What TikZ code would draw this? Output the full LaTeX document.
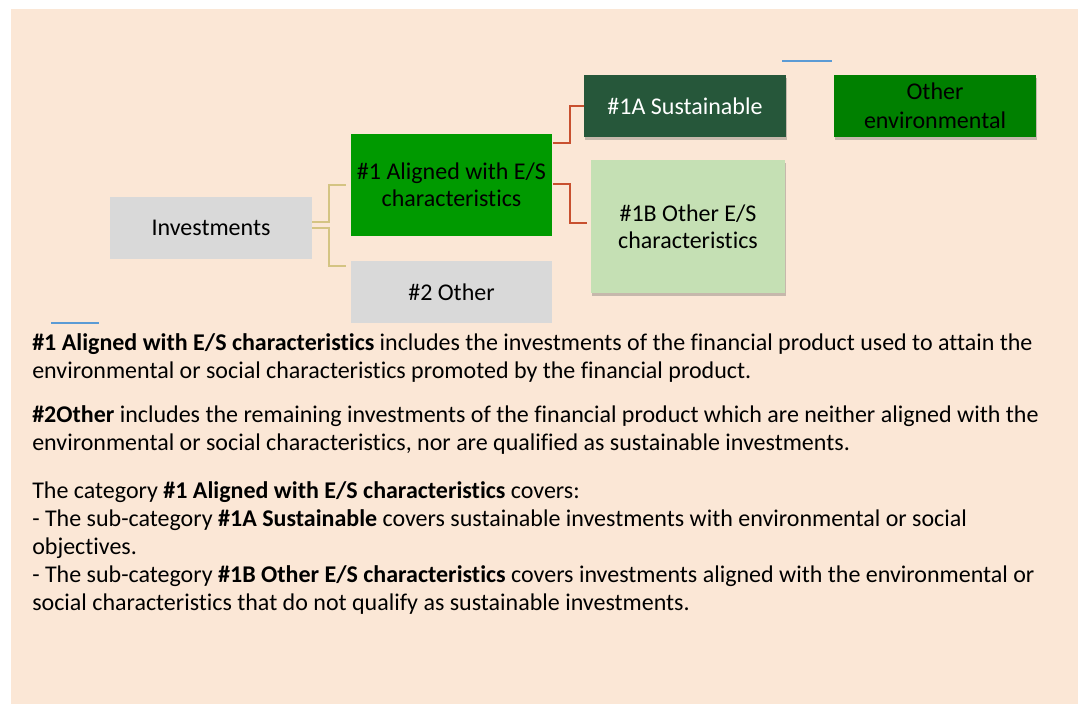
\documentclass[tikz,border=0pt]{standalone}
\usepackage{fontspec}
\setmainfont{Carlito}[Ligatures=NoCommon]
\usepackage{xcolor}
\usetikzlibrary{positioning,calc,shadows}

\definecolor{peach}{HTML}{FBE7D6}
\definecolor{boxgray}{HTML}{D9D9D9}
\definecolor{brightgreen}{HTML}{009A00}
\definecolor{darkgreen}{HTML}{26573A}
\definecolor{lightgreen}{HTML}{C5E0B4}
\definecolor{midgreen}{HTML}{008000}
\definecolor{goldline}{HTML}{D4C483}
\definecolor{redline}{HTML}{C8502F}
\definecolor{blueline}{HTML}{5B9BD5}

\tikzset{
  catbox/.style={rectangle, inner sep=0pt, align=center, font=\fontsize{18}{20}\selectfont},
  shadowbox/.style={catbox, drop shadow={shadow xshift=0.6pt, shadow yshift=-2.4pt, fill=black!70, opacity=0.3}},
  goldconn/.style={goldline, line width=1.5pt},
  redconn/.style={redline, line width=1.5pt},
}

\begin{document}
\begin{tikzpicture}[x=0.75pt, y=-0.75pt]
    % page and background
    \useasboundingbox (0,0) rectangle (1078,704);
    \fill[white] (0,0) rectangle (1078,704);
    \fill[peach] (11,9) rectangle (1078,704);

    % boxes
    \node[catbox, fill=boxgray, minimum width=151.5pt, minimum height=46.5pt] (inv) at (211,228) {Investments};
    \node[catbox, fill=brightgreen, minimum width=150.75pt, minimum height=76.5pt] (aligned) at (451.5,185) {\#1 Aligned with E/S\\characteristics};
    \node[catbox, fill=boxgray, minimum width=150.75pt, minimum height=46.5pt] (other2) at (451.5,292) {\#2 Other};
    \node[shadowbox, fill=darkgreen, text=white, minimum width=151.5pt, minimum height=46.5pt] (sust) at (685,106) {\#1A Sustainable};
    \node[shadowbox, fill=lightgreen, minimum width=145.5pt, minimum height=99.75pt] (oth1b) at (688,226.5) {\#1B Other E/S\\characteristics};
    \node[shadowbox, fill=midgreen, font=\fontsize{18}{21.5}\selectfont, minimum width=151.5pt, minimum height=46.5pt] (othenv) at (935,106) {Other\\environmental};

    % connectors
    \draw[goldconn] ($(inv.east)+(0,-6)$) -- ++(17,0) |- ($(aligned.west)+(-5,0)$);
    \draw[goldconn] (inv.east) -- ++(17,0) |- ($(other2.north west)+(-5,5)$);
    \draw[redconn] ($(aligned.north east)+(1,9)$) -- ++(17,0) |- (sust.west);
    \draw[redconn] ($(aligned.east)+(1,-1)$) -- ++(17,0) |- ($(oth1b.west)+(-4,-4)$);

    % short blue marks
    \draw[blueline, line width=1.2pt] (782,61) -- (832,61);
    \draw[blueline, line width=1.2pt] (51,323) -- (99,323);

    % explanation text
    \node[anchor=north west, inner sep=0pt, align=left, font=\fontsize{18}{21}\selectfont] (notes) at (32,333) {%
      \textbf{\#1 Aligned with E/S characteristics} includes the investments of the financial product used to attain the\\
      environmental or social characteristics promoted by the financial product.\\[12pt]
      \textbf{\#2Other} includes the remaining investments of the financial product which are neither aligned with the\\
      environmental or social characteristics, nor are qualified as sustainable investments.\\[15pt]
      The category \textbf{\#1 Aligned with E/S characteristics} covers:\\
      - The sub-category \textbf{\#1A Sustainable} covers sustainable investments with environmental or social\\
      objectives.\\
      - The sub-category \textbf{\#1B Other E/S characteristics} covers investments aligned with the environmental or\\
      social characteristics that do not qualify as sustainable investments.};
\end{tikzpicture}
\end{document}
